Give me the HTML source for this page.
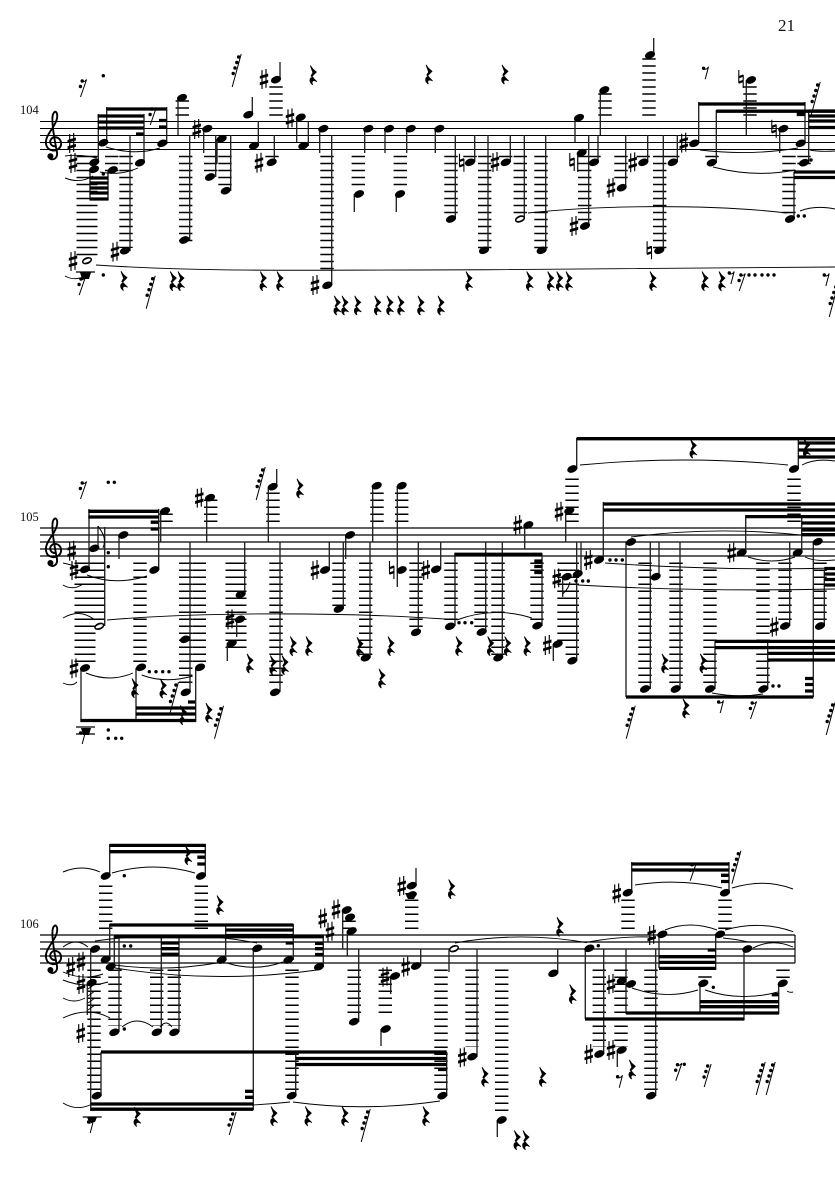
<!DOCTYPE html>
<html><head><meta charset="utf-8"><title>Score page 21</title>
<style>
html,body{margin:0;padding:0;background:#fff;width:835px;height:1181px;overflow:hidden}
svg{display:block}
.staff{stroke:#000;stroke-width:1;fill:none}
.led{stroke:#000;fill:none;stroke-dasharray:1.5 5.5}
.st{stroke:#222;stroke-width:1.35;fill:none}
.bm{stroke:#000;stroke-width:3.3;fill:none}
.tie{stroke:#000;stroke-width:.95;fill:none}
circle{r:1.7px}
text{font-family:"Liberation Serif",serif;fill:#111}
</style></head><body>
<svg width="835" height="1181" viewBox="0 0 835 1181" xmlns="http://www.w3.org/2000/svg">
<defs>
<ellipse id="n" rx="5.3" ry="3.5" transform="rotate(-22)" fill="#000"/>
<g id="h"><ellipse rx="5.3" ry="3.4" transform="rotate(-22)" fill="#000"/><ellipse rx="3.8" ry="1.6" transform="rotate(-22)" fill="#fff"/></g>
<g id="s" transform="scale(1.05)"><path d="M-1.9-8.5V9.5M1.9-9.5V8.5" stroke="#000" stroke-width="1.1" fill="none"/><path d="M-4-2.8 4-5.2V-2.4L-4-.2ZM-4 3.2 4 .8V3.6L-4 6Z" fill="#000"/></g>
<g id="f"><path d="M-2.2-9V4M2.2-4V9" stroke="#000" stroke-width="1.1" fill="none"/><path d="M-2.200-3 2.200-4.600V-2.200L-2.200-.6ZM-2.200 2.400 2.200 .8V3.200L-2.200 4.800Z" fill="#000"/></g>
<path id="r" d="M-3-9.500-.5-6 3-3-1.500 1.600 3.600 6.600C.3 4.600-2.600 6-.6 9.800-4.600 7-4 2.400-.4 2.400L-2.200 .8-.4-2.400Z" fill="#000" stroke="#000" stroke-width=".8"/>
<g id="e"><circle cx="-2.400" cy="-5"/><path d="M-2.400-4C0-3.600 1.500-4.500 2.500-6.500L-.8 6" stroke="#000" stroke-width="1" fill="none"/></g>
<g id="t"><circle cx="-.8" cy="-7"/><circle cx="-2.600" cy="-1.500"/><path d="M-.8-6.200C1-6 2.400-7 3.600-8.500L-2.500 9" stroke="#000" stroke-width="1" fill="none"/></g>
<g id="u"><circle cx="1" cy="-9"/><circle cx="-.8" cy="-3.500"/><circle cx="-2.600" cy="2"/><path d="M4.400-11-2.500 12" stroke="#000" stroke-width="1" fill="none"/></g>
<g id="d"><circle cx="2.600" cy="-13"/><circle cx=".8" cy="-7.500"/><circle cx="-1" cy="-2"/><circle cx="-2.800" cy="3.500"/><path d="M5.200-16-3.800 17" stroke="#000" stroke-width="1" fill="none"/></g>
<g id="c"><path d="M1 4C-3 4-5 0-3-3 0-7 6-5 7 0 8 6 2 9-2 8-8 7-10 0-6-7-3-13 2-18 3-24 4-30 1-33-1-28-3-22 0-5 3 10 4 17-3 19-5 15" stroke="#000" stroke-width="1.9" fill="none"/><circle cx="-3.600" cy="14" style="r:3px"/></g>
</defs>
<rect width="835" height="1181" fill="#fff"/>
<text x="778" y="31" font-size="17">21</text>
<text x="20" y="114" font-size="12.500">104</text>
<text x="20" y="521" font-size="12.500">105</text>
<text x="20" y="928" font-size="12.500">106</text>

<path class="staff" d="M40 121.5H835M40 128.5H835M40 135.5H835M40 142.5H835M40 149.5H835"/>
<path class="staff" style="stroke-width:1.15" d="M40 528H835M40 535H835M40 542H835M40 549H835M40 556H835"/>
<path class="staff" style="stroke-width:1.15" d="M40 935H795M40 942H795M40 949H795M40 956H795M40 963H795M795 935V963"/>
<use href="#c" x="54" y="142.3"/><use href="#c" x="54" y="549"/><use href="#c" x="54" y="956"/>

<!-- ledger stacks -->
<g class="led" stroke-width="21"><path d="M87 155.8V258"/><path d="M85 562.5V662"/><path d="M236 562.5V648"/></g>
<g class="led" stroke-width="13.4">
<path d="M111.7 155.8V172M126 155.8V248M185.7 155.8V242M210.7 155.8V172M225 155.8V186M272 155.8V158M327 155.8V270M358.3 155.8V187M400.3 155.8V187"/>
<path d="M182.3 100.2V116M276 86.2V116M605 93.2V116M649 58.2V116M750 86.2V116"/>
<path d="M451 155.8V214M484.7 155.8V249M520.3 155.8V214M541 155.8V249M584.7 155.8V221M621 155.8V179M659.7 155.8V249M712 155.8V158M789 155.8V214M804 155.8V165M594 155.8V158M505.7 155.8V158M643.3 155.8V158M672.7 155.8V158M470 155.8V158"/>
<path d="M98.7 562.5V621M140 562.5V662M185.7 562.5V683M199.3 562.5V662M276 562.5V684M339 562.5V607M365.7 562.5V655M416 562.5V628"/>
<path d="M166 513.5V522M210.7 499.5V522M273 492.5V522M377 492.5V522M401.7 492.5V522"/>
<path d="M451 562.5V621M481 562.5V628M498 562.5V656M537 562.5V621M564 562.5V642M572.3 562.5V656M645 562.5V684M676 562.5V684M710 562.5V684M763 562.5V684M785 562.5V621M820 562.5V621"/>
<path d="M572 478.5V522M794 478.5V522"/>
<path d="M105.7 885.5V929M201.3 885.5V929M94 969.5V1090M115 969.5V1026M156.7 969.5V1026M174.3 969.5V1026M292 969.5V1090M354.2 969.5V1018M385.3 969.5V1018M349 920.5V929M411.7 899.5V929"/>
<path d="M441 969.5V1090M472 969.5V1047M501.7 969.5V1116M599.3 969.5V1047M621 969.5V1047M651 969.5V1090M628 899.5V929M725 899.5V929M705 976.2V978M783 969.5V978"/>
</g>

<!-- stems -->
<path class="st" d="M98.3 114V163M106.7 107V143M130 135V251M144 114V163M166.7 107V144M178 135V98M189.7 135V240M203.7 129V153M215.7 135V177M230.7 135V191M217 139V163M258.3 121V146M252.3 97V115M274.3 135V162M280 62V80M296.7 118V142M308.3 121V146M319.7 129V153M331.7 135V285M354.3 194V212M364.7 129V153M385 129V153M396.3 194V212M406.7 129V153M435.3 129V153M455.3 135V219M474.7 135V162M488 135V250M510.3 135V162M524.3 135V219M545.7 135V250M575 118V142M577.7 153V172M588.7 135V226M598 135V162M600.3 90V135M653.7 38V55M625.7 135V188M647.7 135V162M663.3 135V250M677.3 135V162M698.7 102V143M716.3 110V163M746.3 80V135M779.7 129V153M805 102V143M808.7 112V163M794 172V219M90 170V200M108 170V200"/>
<path class="st" d="M89 509V569M98 526V548M104.7 527V626M119 535V559M81 668V720M136 668V720M158.7 509V570M160.7 511V542M190 542V692M195.7 668V722M206.7 498V542M227.3 643V661M236.7 619V637M244.7 542V594M268.3 487V542M276.7 469V487M280 542V692M329.3 542V570M343.3 542V609M345.7 535V559M370 542V658M372.7 486V542M397.3 486V587M418.3 542V632M440.7 542V569M455 554V626M485.7 542V632M502.3 542V658M524.7 525V549M542 554V626M553.3 644V661M562.7 577V597M565.7 511V542M576.7 438V469M576.7 542V661M581 542V574M603.3 502V560M626 542V697M650.3 542V689M659 542V577M680 542V689M715 640V689M745.7 515V553M767.7 640V689M789.7 542V626M801.7 515V553M798.3 438V469M813.3 542V697M824.3 570V626"/>
<path class="st" d="M109.7 844V876M205.3 844V876M109.7 924V959M114.3 936V967M119 936V1032M161.3 936V1032M179 936V1032M225.7 924V960M253.3 948V1110M293.3 924V960M323.3 935V967M358.7 949V1022M342.7 910V949M347.3 931V956M381 1029V1046M390.7 976V994M416 868V886M420.7 949V966M90.7 949V1111M87.3 983V1015M101 1052V1096M295.7 1054V1096M449 949V972M446.7 1052V1096M477 949V1057M497.3 1120V1137M557.7 949V973M585.3 948V1019M603.7 949V1054M617.3 1050V1067M626 949V1014M631.7 862V893M655.7 949V1096M659 934V968M700 984V1014M715.7 934V970M729 862V893M744 949V1020M778.7 983V1014"/>

<!-- beams -->
<path class="bm" d="M106.7 109H166.7M97.7 116H143.7M97.7 122H143.7M97.7 128H143.7M159 120.5H166.7M159 127H166.7M136 134H143.5M89.5 178H108.5M89.5 183H108.5M89.5 188H108.5M89.5 193H108.5M89.5 199H108.5M698.7 104H805M716.3 111.2H835M796.7 114.5H805M808.7 111H835M808.7 116H835M808.7 121H835M808.7 127.5H835M794 172H835M794 177.5H835"/>
<path class="bm" d="M88.3 511.3H159M88.3 517H159M150.7 522.2H158.3M150.7 529H158.3M80.3 720.5H195.7M136 708H195.7M136 714H195.7M188 702H195M454.3 554.3H542.3M534.3 561H542.3M534.3 566.5H542.3M534.3 572.5H542.3M576.7 438.7H835M603.3 504H835M603.3 510H835M626 697H813.3M715 641.4H835M715 647.6H835M767.7 653.4H835M767.7 660H835M745.7 516.6H835M801.7 523H835M801.7 530H835M801.7 534.7H835M798.3 443H835M798.3 450H835M798.3 457H835M824.3 568.5H835M824.3 574H835M824.3 579.5H835M824.3 585H835M805 678.5H813M805 684.5H813M805 691H813"/>
<path class="bm" d="M109.7 845.4H205.7M109.7 851.7H205.7M197.3 857.2H205M197.3 864H205M109.7 925H293.3M225.7 930H293.3M225.7 935.5H293.3M114 936.7H323.3M285.7 943H293.3M315 943.5H323.3M315 948.7H323.3M315 954.5H323.3M161 943H179M161 948.7H179M161 954.3H179M101 1052H446.7M295.7 1058.5H446.7M295.7 1064.5H446.7M245 1091.3H253.3M245 1097.3H253.3M90.7 1104H253.3M90.7 1109.2H253.3M438 1069.5H446.7M585 1019H744.3M626 1013H779M700 1001.7H779M700 1006.7H779M771.7 994.7H778.7M659 956.7H715.7M659 962.4H715.7M659 968.4H715.7M707.7 950H715.7M631.7 864H729M631.7 870H729M721 875.3H729M721 881.5H729"/>
<path stroke="#000" stroke-width=".9" fill="none" d="M88 989L95 984M88 996L95 991M88 1003L95 998M88 1010L95 1005"/>
<path fill="#000" d="M80 272.5H91L89 279H82ZM81 728H91L89 735H83ZM87 1117H97L95 1122H89ZM405 893H417L414 899H408Z"/>
<path stroke="#000" stroke-width="1.3" fill="none" d="M76 272H95M76 727H95M76 734H95M82.7 1117H101.7"/>
<path stroke="#000" fill="none" d="M98 526C102 532 107 538 103 548M562.7 594C566 591 569 587 570 582"/>

<!-- ties -->
<path class="tie" d="M96 265C200 272 300 270 415 270S600 268 835 267M528 213C600 205 710 204 787 213M800 211Q815 205 835 209M106 147Q135 156 160 148M700 150Q750 156 798 148M713 167Q755 178 795 170M810 150Q820 152 835 151M65 156Q80 154 97 158M65 178Q80 184 93 176M65 276Q72 280 80 278M100 172Q120 176 138 168"/>
<path class="tie" d="M86 673Q110 683 133 673M141.7 675Q165 684 192.700 676M87 575Q115 586 147 576M63 563Q73 565 78 568M63 585Q73 591 83 584M63 618Q80 608 95 620M107 620C200 612 340 612 445 619M456.700 620Q495 606 531.700 618M580 465Q684 455 788 465M802 465Q815 458 835 461M631 537Q715 526 800 535M605 563Q720 571 835 568M578 585Q700 592 835 589M748 557Q772 565 795 557M805 557Q815 562 835 560M712 693Q738 698 763 694M63 683Q72 687 77 682"/>
<path class="tie" d="M112 873Q154 861 195 873M63 872Q82 864 100 872M63 947Q76 937 88 947M63 972Q83 981 103 974M63 980Q85 989 108 982M63 998Q74 1004 85 998M63 1018Q88 1006 110 1018M63 1103Q76 1111 90 1105M122 1027Q137 1015 153 1027M160 1027Q166 1019 172 1027M95 941C160 932 210 934 257 943M115 965Q165 972 217 963M115 968Q215 984 317 970M227 963Q255 972 283 962M253 1105Q272 1104 290 1102M293 1102Q365 1112 440 1101M455 943Q520 931 587 942.700M590 941.700Q620 936 651.700 937M632 988Q665 1000 698 990M705 990Q740 1002 778 992M787 991Q790 993 793 992M665 930Q690 920 717 930M725 930Q760 920 793.300 931.700M723 938Q735 939 747 941.700M753 948Q772 938 793 947M635 885Q680 878 722 888M732 888Q765 878 793 889"/>

<!-- noteheads system 1 -->
<g>
<use href="#n" x="103.3" y="142.7"/><use href="#n" x="112.7" y="170"/><use href="#n" x="140" y="162.7"/><use href="#n" x="162.3" y="143.3"/><use href="#n" x="94.3" y="162.3"/><use href="#n" x="94" y="169.3"/><use href="#h" x="87" y="260.7"/><use href="#n" x="125" y="250.7"/><use href="#n" x="184.3" y="240"/><use href="#n" x="182" y="97.7"/><use href="#n" x="210" y="177"/><use href="#n" x="207.3" y="128.7"/><use href="#n" x="225.7" y="190.7"/><use href="#n" x="221.7" y="138.7"/><use href="#n" x="254" y="145.7"/><use href="#n" x="248.3" y="114.7"/><use href="#n" x="271.7" y="162.3"/><use href="#n" x="276" y="79.7"/><use href="#n" x="300.7" y="117.3"/><use href="#n" x="303.3" y="145.7"/><use href="#n" x="323.3" y="128.7"/><use href="#n" x="327.3" y="285.3"/><use href="#n" x="368.3" y="128.7"/><use href="#n" x="359" y="194"/><use href="#n" x="389" y="128.7"/><use href="#n" x="410.7" y="128.7"/><use href="#n" x="400" y="194"/><use href="#n" x="439.3" y="128.7"/><use href="#n" x="451" y="219"/><use href="#n" x="470" y="162.3"/><use href="#n" x="484" y="250.3"/><use href="#n" x="505.7" y="162.3"/><use href="#h" x="520" y="219"/><use href="#n" x="541.7" y="250.3"/><use href="#n" x="579" y="117.7"/><use href="#n" x="585" y="226"/><use href="#n" x="581.7" y="152.7"/><use href="#n" x="594" y="162.3"/><use href="#n" x="604.3" y="90"/><use href="#n" x="650" y="55"/><use href="#n" x="621.7" y="187.7"/><use href="#n" x="643.3" y="162.3"/><use href="#n" x="659.3" y="250.3"/><use href="#n" x="672.7" y="162.3"/><use href="#n" x="694.3" y="143.3"/><use href="#n" x="711.7" y="162.7"/><use href="#n" x="751" y="80"/><use href="#n" x="783.3" y="128.7"/><use href="#n" x="800.7" y="143.3"/><use href="#n" x="804" y="162.7"/><use href="#n" x="790" y="219"/>
<!-- system 2 -->
<use href="#h" x="99.3" y="626.3"/><use href="#n" x="94.3" y="548.3"/><use href="#n" x="85" y="569.3"/><use href="#n" x="154.3" y="570"/><use href="#n" x="141" y="667.3"/><use href="#n" x="85" y="668"/><use href="#n" x="200" y="667.3"/><use href="#n" x="185" y="639.3"/><use href="#n" x="185.7" y="692.3"/><use href="#n" x="123.3" y="535"/><use href="#n" x="165" y="511"/><use href="#n" x="210" y="497.7"/><use href="#n" x="272.7" y="486.7"/><use href="#n" x="240.7" y="594.3"/><use href="#n" x="240" y="619.3"/><use href="#n" x="231.7" y="643.3"/><use href="#n" x="275" y="692.3"/><use href="#n" x="325" y="570"/><use href="#n" x="350" y="535"/><use href="#n" x="338.7" y="609"/><use href="#n" x="365.7" y="657.7"/><use href="#n" x="376.7" y="485.7"/><use href="#n" x="401.7" y="485.7"/><use href="#n" x="401.7" y="570"/><use href="#n" x="416" y="632.3"/><use href="#n" x="436" y="569.3"/><use href="#n" x="450" y="626.3"/><use href="#n" x="481.7" y="632"/><use href="#n" x="498.3" y="657.7"/><use href="#n" x="537.3" y="625.7"/><use href="#n" x="528.3" y="525"/><use href="#n" x="569.3" y="510.7"/><use href="#n" x="572.3" y="469"/><use href="#n" x="566.7" y="576.7"/><use href="#n" x="577.7" y="574"/><use href="#n" x="557.7" y="644"/><use href="#n" x="572.3" y="660.7"/><use href="#n" x="599" y="560"/><use href="#n" x="631" y="542"/><use href="#n" x="655.7" y="576.7"/><use href="#n" x="645" y="689"/><use href="#n" x="675.7" y="689"/><use href="#n" x="710" y="689"/><use href="#n" x="763.3" y="689"/><use href="#n" x="741.7" y="552.7"/><use href="#n" x="797.7" y="552.7"/><use href="#n" x="785" y="626"/><use href="#n" x="817.7" y="541.7"/><use href="#n" x="820" y="626"/><use href="#n" x="794" y="469"/>
<!-- system 3 -->
<use href="#n" x="105.7" y="876"/><use href="#n" x="201" y="876"/><use href="#n" x="105.7" y="959.3"/><use href="#n" x="110.7" y="966.7"/><use href="#n" x="114.3" y="1032.3"/><use href="#n" x="221.7" y="960"/><use href="#n" x="257.3" y="948.3"/><use href="#n" x="288.3" y="960"/><use href="#n" x="319" y="966.7"/><use href="#n" x="156.7" y="1032.3"/><use href="#n" x="174.3" y="1032.3"/><use href="#n" x="354" y="1021.7"/><use href="#n" x="346.7" y="910"/><use href="#n" x="350" y="917.3"/><use href="#n" x="351.7" y="931"/><use href="#n" x="395" y="976"/><use href="#n" x="385.7" y="1029"/><use href="#n" x="416" y="966"/><use href="#n" x="411.7" y="885.7"/><use href="#n" x="411.7" y="895"/><use href="#n" x="96.7" y="1095.7"/><use href="#n" x="291.7" y="1095.7"/><use href="#n" x="95" y="949"/><use href="#n" x="91.7" y="982.7"/><use href="#h" x="454" y="948.7"/><use href="#n" x="442.3" y="1095.7"/><use href="#n" x="472.3" y="1056.7"/><use href="#n" x="501.7" y="1120"/><use href="#n" x="553.3" y="973.3"/><use href="#n" x="589.3" y="948.3"/><use href="#n" x="599.3" y="1054"/><use href="#n" x="621.7" y="1050"/><use href="#n" x="621.7" y="980.7"/><use href="#n" x="631" y="984"/><use href="#n" x="703.3" y="983.3"/><use href="#n" x="782.7" y="983.3"/><use href="#n" x="651" y="1095.7"/><use href="#n" x="662.3" y="934.3"/><use href="#n" x="720" y="934.3"/><use href="#n" x="747.3" y="949"/><use href="#n" x="627.7" y="892.7"/><use href="#n" x="725" y="892.7"/>
</g>

<!-- accidentals -->
<g>
<use href="#s" x="71.7" y="143"/><use href="#s" x="73" y="163"/><use href="#s" x="73" y="261"/><use href="#s" x="115" y="251.7"/><use href="#s" x="196.7" y="129"/><use href="#s" x="259" y="162.7"/><use href="#s" x="264" y="79"/><use href="#s" x="290" y="118.3"/><use href="#s" x="315" y="285"/><use href="#f" x="461.7" y="162.7"/><use href="#s" x="495" y="162"/><use href="#s" x="574" y="226"/><use href="#f" x="572" y="162"/><use href="#s" x="611" y="187.7"/><use href="#s" x="632.7" y="162.3"/><use href="#f" x="649.3" y="250.3"/><use href="#s" x="683.7" y="142.7"/><use href="#f" x="741" y="79"/><use href="#f" x="774" y="128.7"/>
<use href="#s" x="71.7" y="550.7"/><use href="#s" x="74" y="570"/><use href="#s" x="74" y="668.3"/><use href="#s" x="199.3" y="497.7"/><use href="#s" x="230" y="619.3"/><use href="#s" x="315" y="570"/><use href="#f" x="391.7" y="570"/><use href="#s" x="425.7" y="570"/><use href="#s" x="517.7" y="525"/><use href="#s" x="559" y="511.7"/><use href="#s" x="556.7" y="578.3"/><use href="#s" x="547.3" y="645"/><use href="#s" x="588.3" y="560"/><use href="#s" x="731.7" y="552.7"/><use href="#s" x="774.3" y="626.7"/>
<use href="#s" x="70.7" y="967"/><use href="#s" x="81" y="961.7"/><use href="#s" x="81" y="984"/><use href="#s" x="80.7" y="1033"/><use href="#s" x="322.7" y="918.3"/><use href="#s" x="330" y="931.7"/><use href="#s" x="336" y="909.3"/><use href="#s" x="385" y="976.7"/><use href="#s" x="405.7" y="966.7"/><use href="#s" x="401.7" y="886"/><use href="#s" x="462.3" y="1057.3"/><use href="#s" x="588.7" y="1054"/><use href="#s" x="611" y="1050"/><use href="#s" x="611" y="984"/><use href="#s" x="651.7" y="935"/><use href="#s" x="616.700" y="893.3"/>
</g>

<!-- rests -->
<g>
<use href="#r" x="124" y="280.7"/><use href="#r" x="173.3" y="281"/><use href="#r" x="181" y="281"/><use href="#r" x="263.3" y="281"/><use href="#r" x="280" y="281"/><use href="#r" x="337.3" y="305.3"/><use href="#r" x="345" y="305.3"/><use href="#r" x="357.7" y="305.3"/><use href="#r" x="377.7" y="305.3"/><use href="#r" x="390" y="305.3"/><use href="#r" x="401" y="305.3"/><use href="#r" x="421" y="305.3"/><use href="#r" x="441" y="305.3"/><use href="#r" x="469" y="281"/><use href="#r" x="529.7" y="281"/><use href="#r" x="550.7" y="281"/><use href="#r" x="559.7" y="281"/><use href="#r" x="569" y="281"/><use href="#r" x="653" y="281"/><use href="#r" x="705" y="281"/><use href="#r" x="722" y="281"/><use href="#r" x="429" y="74.3"/><use href="#r" x="505" y="74.3"/><use href="#r" x="313.3" y="75"/>
<use href="#r" x="135" y="688"/><use href="#r" x="163.3" y="688.3"/><use href="#r" x="183.3" y="715"/><use href="#r" x="209" y="712.7"/><use href="#r" x="250" y="663.3"/><use href="#r" x="273.3" y="665"/><use href="#r" x="285" y="665"/><use href="#r" x="293.3" y="646"/><use href="#r" x="309" y="646"/><use href="#r" x="300" y="488.3"/><use href="#r" x="360" y="646.7"/><use href="#r" x="391" y="646"/><use href="#r" x="382" y="678.3"/><use href="#r" x="693.3" y="448.3"/><use href="#r" x="806.7" y="448"/><use href="#r" x="459" y="646"/><use href="#r" x="490.7" y="646"/><use href="#r" x="507.7" y="646"/><use href="#r" x="527.3" y="646"/><use href="#r" x="665" y="663.3"/><use href="#r" x="703.3" y="663.3"/><use href="#r" x="686" y="708.3"/>
<use href="#r" x="188.3" y="855"/><use href="#r" x="220" y="905"/><use href="#r" x="137.3" y="1116.7"/><use href="#r" x="274" y="1116"/><use href="#r" x="308.3" y="1116"/><use href="#r" x="345" y="1116"/><use href="#r" x="451.7" y="889"/><use href="#r" x="485" y="1076.7"/><use href="#r" x="542.7" y="1076.7"/><use href="#r" x="560" y="926.7"/><use href="#r" x="572.7" y="994"/><use href="#r" x="426" y="1116"/><use href="#r" x="517.3" y="1140"/><use href="#r" x="526" y="1140"/><use href="#r" x="632.3" y="1069.3"/>
<use href="#e" x="706" y="73.3"/><use href="#e" x="731.7" y="278"/><use href="#e" x="826.7" y="280"/><use href="#e" x="721" y="707"/><use href="#e" x="620" y="1081.7"/><use href="#e" x="91" y="1127"/><use href="#e" x="83" y="738"/>
<use href="#t" x="741.7" y="282"/><use href="#t" x="83" y="88"/><use href="#t" x="81.7" y="286"/><use href="#t" x="152.7" y="116"/><use href="#t" x="83" y="490"/><use href="#t" x="753" y="710"/><use href="#t" x="692.7" y="871.7"/><use href="#t" x="678.3" y="1071.7"/>
<use href="#u" x="231.7" y="1123"/><use href="#u" x="706.7" y="1075"/>
<use href="#d" x="150" y="291.7"/><use href="#d" x="236" y="70"/><use href="#d" x="833" y="300"/><use href="#d" x="815" y="98"/><use href="#d" x="173.3" y="698"/><use href="#d" x="218.3" y="721.7"/><use href="#d" x="260" y="483"/><use href="#d" x="630" y="721.7"/><use href="#d" x="830" y="718"/><use href="#d" x="365" y="1125"/><use href="#d" x="735.700" y="866.7"/><use href="#d" x="760" y="1078"/><use href="#d" x="770" y="1078"/>
</g>

<!-- augmentation dots -->
<g fill="#000">
<circle cx="103.3" cy="75.7"/><circle cx="103.3" cy="174"/><circle cx="103.3" cy="275"/><circle cx="749" cy="275"/><circle cx="755" cy="275"/><circle cx="762" cy="275"/><circle cx="768" cy="275"/><circle cx="774" cy="275"/><circle cx="798.3" cy="216"/><circle cx="804.3" cy="216"/><circle cx="811" cy="160"/>
<circle cx="108.3" cy="482.3"/><circle cx="114.3" cy="482.3"/><circle cx="108.3" cy="552.7"/><circle cx="108.3" cy="566.7"/><circle cx="108.3" cy="730"/><circle cx="108.3" cy="738.3"/><circle cx="115.7" cy="738.3"/><circle cx="121.7" cy="738.3"/><circle cx="149.3" cy="671.7"/><circle cx="156" cy="671.7"/><circle cx="162.7" cy="671.7"/><circle cx="169" cy="671.7"/><circle cx="459" cy="622.7"/><circle cx="465" cy="622.7"/><circle cx="471.7" cy="622.7"/><circle cx="576" cy="581"/><circle cx="582.7" cy="581"/><circle cx="588.3" cy="581"/><circle cx="610" cy="560"/><circle cx="616" cy="560"/><circle cx="622.3" cy="560"/><circle cx="773" cy="686"/><circle cx="779" cy="686"/>
<circle cx="124.3" cy="875.7"/><circle cx="124.3" cy="946"/><circle cx="130.7" cy="946"/><circle cx="124.3" cy="1029"/><circle cx="598.3" cy="945.7"/><circle cx="713.3" cy="987.3"/><circle cx="684.3" cy="1064.3"/>
</g>
</svg>
</body></html>
